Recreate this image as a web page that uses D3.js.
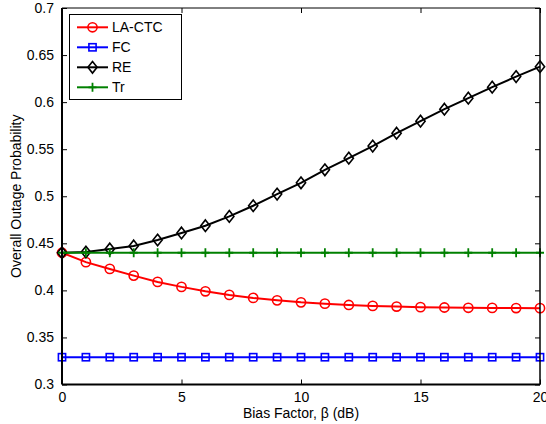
<!DOCTYPE html>
<html><head><meta charset="utf-8">
<script src="https://cdn.jsdelivr.net/npm/d3@7"></script>
<style>body{margin:0;background:#fff}svg{display:block}text{font-family:"Liberation Sans",Arial,sans-serif}</style>
</head><body>
<svg id="c" width="546" height="424"></svg>
<script>
const bias = [0,1,2,3,4,5,6,7,8,9,10,11,12,13,14,15,16,17,18,19,20];
const laCtc = [0.440,0.430,0.4228,0.4157,0.409,0.4037,0.399,0.3952,0.392,0.3894,0.3873,0.3859,0.3845,0.3835,0.3828,0.3822,0.3818,0.3815,0.3814,0.3812,0.3811];
const fc = [0.329,0.329,0.329,0.329,0.329,0.329,0.329,0.329,0.329,0.329,0.329,0.329,0.329,0.329,0.329,0.329,0.329,0.329,0.329,0.329,0.329];
const re = [0.440,0.4408,0.444,0.4472,0.4535,0.461,0.4687,0.4786,0.4899,0.5023,0.5143,0.5281,0.5405,0.5533,0.567,0.5798,0.5925,0.6042,0.6159,0.6271,0.6377];
const tr = [0.440,0.440,0.440,0.440,0.440,0.440,0.440,0.440,0.440,0.440,0.440,0.440,0.440,0.440,0.440,0.440,0.440,0.440,0.440,0.440,0.440];
const seriesNames = ["LA-CTC","FC","RE","Tr"];
const xTicks = [0,5,10,15,20];
const yTicks = [0.3,0.35,0.4,0.45,0.5,0.55,0.6,0.65,0.7];
const xLabel = "Bias Factor, \u03b2 (dB)";
const yLabel = "Overall Outage Probability";

const series = [
  {name: seriesNames[0], values: laCtc, color: "#ff0000", marker: "circle"},
  {name: seriesNames[1], values: fc, color: "#0000ff", marker: "square"},
  {name: seriesNames[2], values: re, color: "#000000", marker: "diamond"},
  {name: seriesNames[3], values: tr, color: "#008000", marker: "plus"}
];

const L = 62, R = 540, T = 8, B = 384.5;
const svg = d3.select("#c");
const x = d3.scaleLinear().domain([0,20]).range([L,R]);
const y = d3.scaleLinear().domain([0.3,0.7]).range([B,T]);

function drawMarker(g, type, cx, cy, color){
  if(type==="circle"){
    g.append("circle").attr("cx",cx).attr("cy",cy).attr("r",4.6)
      .attr("fill","none").attr("stroke",color).attr("stroke-width",1.6);
  } else if(type==="square"){
    g.append("rect").attr("x",cx-3.6).attr("y",cy-3.6).attr("width",7.2).attr("height",7.2)
      .attr("fill","none").attr("stroke",color).attr("stroke-width",1.6);
  } else if(type==="diamond"){
    g.append("path").attr("d",`M${cx},${cy-5.8}L${cx+4.6},${cy}L${cx},${cy+5.8}L${cx-4.6},${cy}Z`)
      .attr("fill","none").attr("stroke",color).attr("stroke-width",1.6);
  } else {
    g.append("path").attr("d",`M${cx-4},${cy}H${cx+4}M${cx},${cy-4.5}V${cy+4.5}`)
      .attr("fill","none").attr("stroke",color).attr("stroke-width",1.8);
  }
}

svg.append("rect").attr("x",L).attr("y",T).attr("width",R-L).attr("height",B-T).attr("fill","#fff");

const line = d3.line().x((d,i)=>x(bias[i])).y(d=>y(d));
const plot = svg.append("g");
series.forEach(s=>{
  plot.append("path").datum(s.values).attr("d",line)
    .attr("fill","none").attr("stroke",s.color).attr("stroke-width",2);
  const mg = plot.append("g");
  s.values.forEach((v,i)=>drawMarker(mg, s.marker, x(bias[i]), y(v), s.color));
});

const xAxisB = d3.axisBottom(x).tickValues(xTicks).tickSize(-5).tickPadding(8).tickFormat(d3.format("d"));
const xAxisT = d3.axisTop(x).tickValues(xTicks).tickSize(-5).tickFormat("");
const yAxisL = d3.axisLeft(y).tickValues(yTicks).tickSize(-5).tickPadding(8).tickFormat(d=>String(+d.toFixed(2)));
const yAxisR = d3.axisRight(y).tickValues(yTicks).tickSize(-5).tickFormat("");
function style(g){
  g.select(".domain").remove();
  g.selectAll(".tick line").attr("stroke","#000").attr("stroke-width",1);
  g.selectAll(".tick text").attr("font-size",14).attr("fill","#000").attr("font-family","'Liberation Sans',Arial,sans-serif");
}
svg.append("g").attr("transform",`translate(0,${B})`).call(xAxisB).call(style);
svg.append("g").attr("transform",`translate(0,${T})`).call(xAxisT).call(style);
svg.append("g").attr("transform",`translate(${L},0)`).call(yAxisL).call(style);
svg.append("g").attr("transform",`translate(${R},0)`).call(yAxisR).call(style);

svg.append("path").attr("d",`M${L},${T}H${R}`).attr("stroke","#000").attr("stroke-width",1);
svg.append("path").attr("d",`M${R},${T}V${B}`).attr("stroke","#000").attr("stroke-width",1.5);
svg.append("path").attr("d",`M${L},${B}H${R}`).attr("stroke","#000").attr("stroke-width",2);
svg.append("path").attr("d",`M${L},${T}V${B}`).attr("stroke","#000").attr("stroke-width",2);

svg.append("text").attr("x",301).attr("y",418).attr("text-anchor","middle")
  .attr("font-size",14).text(xLabel);
svg.append("text").attr("transform",`translate(21,${(T+B)/2}) rotate(-90)`).attr("text-anchor","middle")
  .attr("font-size",14).text(yLabel);

const lg = svg.append("g");
lg.append("rect").attr("x",69.5).attr("y",14.5).attr("width",112).attr("height",85)
  .attr("fill","#fff").attr("stroke","#000").attr("stroke-width",1);
series.forEach((s,i)=>{
  const ly = 27.3 + i*20;
  lg.append("path").attr("d",`M77,${ly}H108`).attr("stroke",s.color).attr("stroke-width",2);
  drawMarker(lg, s.marker, 92.5, ly, s.color);
  lg.append("text").attr("x",112).attr("y",ly+5).attr("font-size",14).text(s.name);
});
</script>
</body></html>
